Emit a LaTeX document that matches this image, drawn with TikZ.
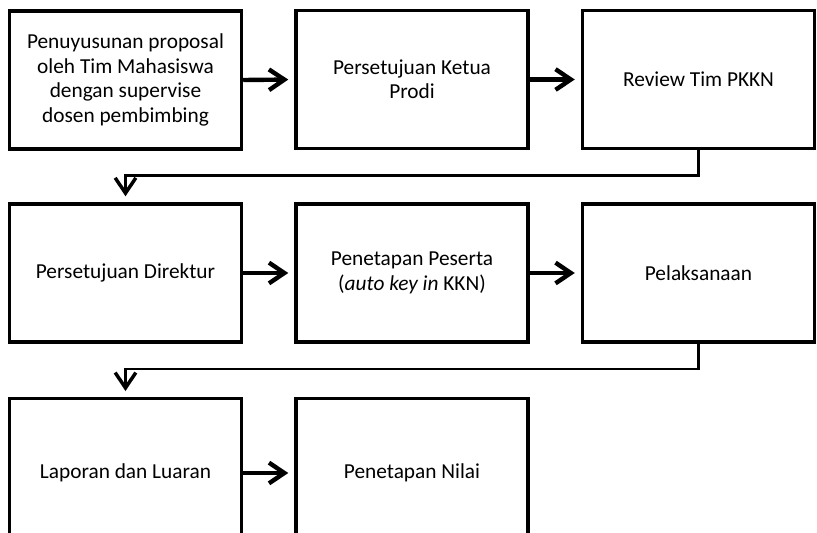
\documentclass[tikz,border=0pt]{standalone}
\usepackage{fontspec}
\setmainfont{Carlito}
\usetikzlibrary{arrows.meta,calc}
\begin{document}
\begin{tikzpicture}[x=0.75pt,y=-0.75pt,
  box/.style={draw=black,line width=2.6pt,minimum width=174pt,minimum height=103.5pt,
    inner sep=0pt,align=center,font=\fontsize{16pt}{18.3pt}\selectfont},
  tallbox/.style={box,minimum height=111.4pt},
  harr/.style={line width=3.3pt,-{Straight Barb[length=11.5pt,width=15.5pt,line width=3.3pt]},shorten >=4.5pt},
  varr/.style={line width=2.2pt,-{Straight Barb[length=11.5pt,width=15.5pt,line width=2.6pt]},shorten >=4.5pt}]
\useasboundingbox[fill=white] (0,0) rectangle (817,532);
\begin{scope}
\clip (0,0) rectangle (817,532);
\node[box] (b1) at (125.5,80) {Penuyusunan proposal\\oleh Tim Mahasiswa\\dengan supervise\\dosen pembimbing};
\node[box] (b2) at (412,79.5) {Persetujuan Ketua\\Prodi};
\node[box] (b3) at (698.5,79.5) {Review Tim PKKN};
\node[box] (b4) at (125.5,273) {Persetujuan Direktur};
\node[box] (b5) at (412,273) {Penetapan Peserta\\(\textit{auto key in} KKN)};
\node[box] (b6) at (698.5,273) {Pelaksanaan};
\node[tallbox] (b7) at (125.5,473) {Laporan dan Luaran};
\node[tallbox] (b8) at (412,473) {Penetapan Nilai};
\end{scope}
\coordinate (c1) at (698.5,175.5);
\coordinate (c2) at (698.5,369);
\draw[harr] (b1.east) -- (b2.west);
\draw[harr] (b2.east) -- (b3.west);
\draw[harr] (b4.east) -- (b5.west);
\draw[harr] (b5.east) -- (b6.west);
\draw[harr] (b7.east) -- (b8.west);
\draw[varr] (b3.south) -- (c1) -| (b4.north);
\draw[varr] (b6.south) -- (c2) -| (b7.north);
\end{tikzpicture}
\end{document}
